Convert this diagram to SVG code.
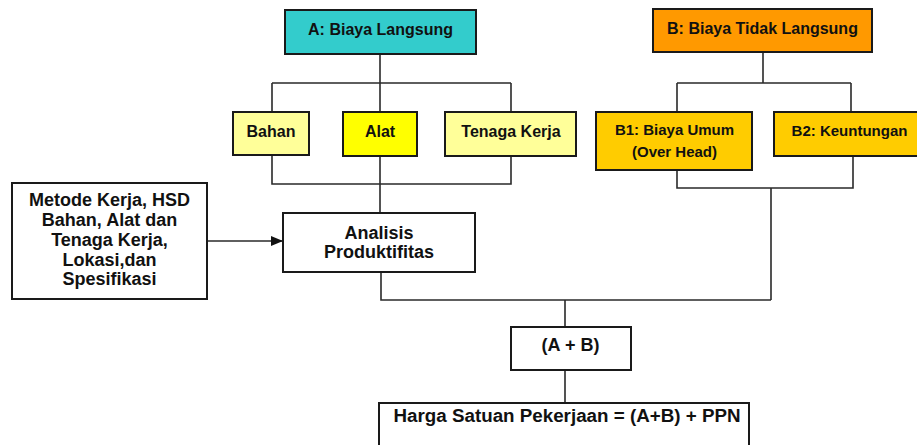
<svg xmlns="http://www.w3.org/2000/svg" width="917" height="445" viewBox="0 0 917 445">
<defs>
<style>
.box{stroke:#1a1a1a;stroke-width:2}
.ln{stroke:#2a2a2a;stroke-width:1.6;fill:none}
text{font-family:"Liberation Sans",Arial,sans-serif;font-weight:bold;fill:#111;text-anchor:middle}
.t16{font-size:16px}
.t15{font-size:15px}
.t18{font-size:18px}
</style>
<marker id="arr" markerWidth="12" markerHeight="10" refX="12" refY="5" orient="auto" markerUnits="userSpaceOnUse">
<path d="M0,0 L12,5 L0,10 Z" fill="#111"/>
</marker>
</defs>
<rect width="917" height="445" fill="#fff"/>
<g id="connectors">
<path class="ln" d="M380,54 V83 M272,83 H511 M272,83 V112 M380,83 V112 M511,83 V112"/>
<path class="ln" d="M272,155 V184 H511 V156 M380,156 V213"/>
<path class="ln" d="M763,52 V83 M677,83 H851 M677,83 V112 M851,83 V112"/>
<path class="ln" d="M677,170 V188 H853 V156 M771,188 V300"/>
<path class="ln" d="M381,272 V300 H771 M565,300 V327 M565,370 V403"/>
<path class="ln" d="M207,241 H283" marker-end="url(#arr)"/>
</g>
<g id="nodeA">
<rect class="box" x="285" y="10" width="191" height="44" fill="#33CCCC"/>
<text class="t16" x="380.5" y="35">A: Biaya Langsung</text>
</g>
<g id="nodeB">
<rect class="box" x="653" y="9" width="219" height="43" fill="#FF9900"/>
<text class="t16" x="762.5" y="33.5">B: Biaya Tidak Langsung</text>
</g>
<g id="nodeBahan">
<rect class="box" x="233" y="112" width="76" height="43" fill="#FFFF99"/>
<text class="t16" x="271" y="136.5">Bahan</text>
</g>
<g id="nodeAlat">
<rect class="box" x="343" y="112" width="74" height="44" fill="#FFFF00"/>
<text class="t16" x="380" y="136.5">Alat</text>
</g>
<g id="nodeTenaga">
<rect class="box" x="445" y="112" width="131" height="44" fill="#FFFF99"/>
<text class="t16" x="511" y="136.5">Tenaga Kerja</text>
</g>
<g id="nodeB1">
<rect class="box" x="596" y="112" width="156" height="58" fill="#FFCC00"/>
<text class="t15" x="674.5" y="135">B1: Biaya Umum</text>
<text class="t15" x="674.5" y="156.5">(Over Head)</text>
</g>
<g id="nodeB2">
<rect class="box" x="774" y="112" width="150" height="44" fill="#FFCC00"/>
<text class="t15" x="849.5" y="135.5">B2: Keuntungan</text>
</g>
<g id="nodeMetode">
<rect class="box" x="12" y="183" width="195" height="116" fill="#fff"/>
<text class="t18" x="109.5" y="206">Metode Kerja, HSD</text>
<text class="t18" x="109.5" y="226">Bahan, Alat dan</text>
<text class="t18" x="109.5" y="246">Tenaga Kerja,</text>
<text class="t18" x="109.5" y="265.5">Lokasi,dan</text>
<text class="t18" x="109.5" y="285">Spesifikasi</text>
</g>
<g id="nodeAnalisis">
<rect class="box" x="283" y="213" width="192" height="59" fill="#fff"/>
<text class="t18" x="379" y="238.5">Analisis</text>
<text class="t18" x="379" y="258">Produktifitas</text>
</g>
<g id="nodeAB">
<rect class="box" x="511" y="327" width="120" height="43" fill="#fff"/>
<text class="t18" x="570.5" y="350.5">(A + B)</text>
</g>
<g id="nodeHarga">
<rect class="box" x="379" y="403" width="370" height="50" fill="#fff"/>
<text class="t18" x="567" y="422" textLength="347" lengthAdjust="spacingAndGlyphs">Harga Satuan Pekerjaan = (A+B) + PPN</text>
</g>
</svg>
